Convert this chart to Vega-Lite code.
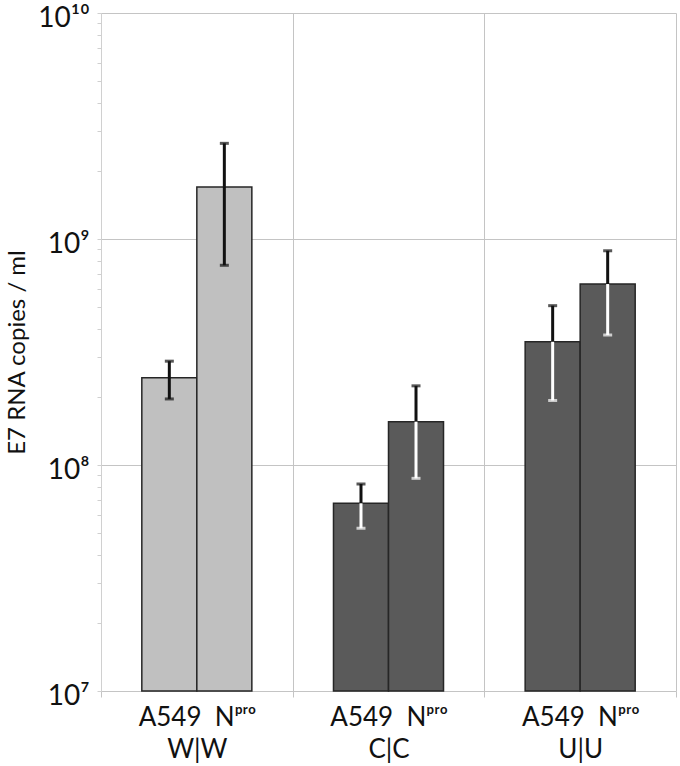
{
  "$schema": "https://vega.github.io/schema/vega-lite/v6.json",
  "width": 575,
  "height": 678,
  "autosize": {"type": "none"},
  "padding": {"left": 101, "top": 13, "right": 4, "bottom": 75},
  "background": "white",
  "config": {"view": {"stroke": null}, "font": "Lato"},
  "data": {
    "values": [
      {"group": "W|W", "type": "A549", "value": 243000000, "lo": 196000000, "hi": 288000000},
      {"group": "W|W", "type": "Npro", "value": 1700000000, "lo": 765000000, "hi": 2650000000},
      {"group": "C|C", "type": "A549", "value": 67700000, "lo": 52500000, "hi": 82400000},
      {"group": "C|C", "type": "Npro", "value": 155500000, "lo": 87300000, "hi": 224000000},
      {"group": "U|U", "type": "A549", "value": 351000000, "lo": 193000000, "hi": 507000000},
      {"group": "U|U", "type": "Npro", "value": 632000000, "lo": 376000000, "hi": 887000000}
    ]
  },
  "encoding": {
    "x": {
      "field": "group",
      "type": "nominal",
      "sort": ["W|W", "C|C", "U|U"],
      "scale": {"paddingInner": 0, "paddingOuter": 0},
      "axis": {
        "title": null,
        "tickBand": "extent",
        "grid": true,
        "gridColor": "#c4c4c4",
        "gridWidth": 1,
        "domain": false,
        "tickColor": "#c4c4c4",
        "tickSize": 6,
        "labelAngle": 0,
        "labelFontSize": 26,
        "labelColor": "#111111",
        "labelExpr": "(datum.value == 'W|W' || datum.value == 'C|C' || datum.value == 'U|U') ? ['A549\u00a0\u00a0Nᵖʳᵒ', datum.value] : ''",
        "labelLineHeight": 32,
        "labelPadding": 7
      }
    },
    "xOffset": {
      "field": "type",
      "sort": ["A549", "Npro"],
      "scale": {"paddingInner": 0, "paddingOuter": 0.742}
    }
  },
  "layer": [
    {
      "mark": {"type": "bar", "stroke": "#262626", "strokeWidth": 1.5},
      "encoding": {
        "y": {
          "field": "value",
          "type": "quantitative",
          "scale": {"type": "log", "domain": [10000000, 10000000000]},
          "axis": {
            "title": "E7 RNA copies / ml",
            "titleFontSize": 24,
            "titleFontWeight": "normal",
            "titleColor": "#111111",
            "titlePadding": 8,
            "values": [10000000, 20000000, 30000000, 40000000, 50000000, 60000000, 70000000, 80000000, 90000000,
                       100000000, 200000000, 300000000, 400000000, 500000000, 600000000, 700000000, 800000000, 900000000,
                       1000000000, 2000000000, 3000000000, 4000000000, 5000000000, 6000000000, 7000000000, 8000000000, 9000000000,
                       10000000000],
            "grid": true,
            "gridColor": {
              "condition": {
                "test": "datum.value == 10000000 || datum.value == 100000000 || datum.value == 1000000000 || datum.value == 10000000000",
                "value": "#c4c4c4"
              },
              "value": "rgba(0,0,0,0)"
            },
            "tickSize": 4,
            "tickColor": "#d0d0d0",
            "domainColor": "#d0d0d0",
            "labelOverlap": false,
            "labelFontSize": 28,
            "labelColor": "#111111",
            "labelPadding": 8,
            "labelOffset": 5,
            "labelExpr": "datum.value == 10000000 ? '10⁷' : datum.value == 100000000 ? '10⁸' : datum.value == 1000000000 ? '10⁹' : datum.value == 10000000000 ? '10¹⁰' : ''"
          }
        },
        "y2": {"datum": 10000000},
        "color": {
          "field": "group",
          "type": "nominal",
          "scale": {"domain": ["W|W", "C|C", "U|U"], "range": ["#c0c0c0", "#5a5a5a", "#5a5a5a"]},
          "legend": null
        }
      }
    },
    {
      "mark": {"type": "rule", "color": "#111111", "strokeWidth": 3},
      "encoding": {"y": {"field": "value", "type": "quantitative"}, "y2": {"field": "hi"}}
    },
    {
      "transform": [{"filter": "datum.group == 'W|W'"}],
      "mark": {"type": "rule", "color": "#111111", "strokeWidth": 3},
      "encoding": {"y": {"field": "lo", "type": "quantitative"}, "y2": {"field": "value"}}
    },
    {
      "transform": [{"filter": "datum.group != 'W|W'"}],
      "mark": {"type": "rule", "color": "#ffffff", "strokeWidth": 3},
      "encoding": {"y": {"field": "lo", "type": "quantitative"}, "y2": {"field": "value"}}
    },
    {
      "mark": {"type": "tick", "color": "#111111", "thickness": 3, "size": 9},
      "encoding": {"y": {"field": "hi", "type": "quantitative"}}
    },
    {
      "transform": [{"filter": "datum.group == 'W|W'"}],
      "mark": {"type": "tick", "color": "#111111", "thickness": 3, "size": 9},
      "encoding": {"y": {"field": "lo", "type": "quantitative"}}
    },
    {
      "transform": [{"filter": "datum.group != 'W|W'"}],
      "mark": {"type": "tick", "color": "#ffffff", "thickness": 3, "size": 9},
      "encoding": {"y": {"field": "lo", "type": "quantitative"}}
    }
  ]
}
